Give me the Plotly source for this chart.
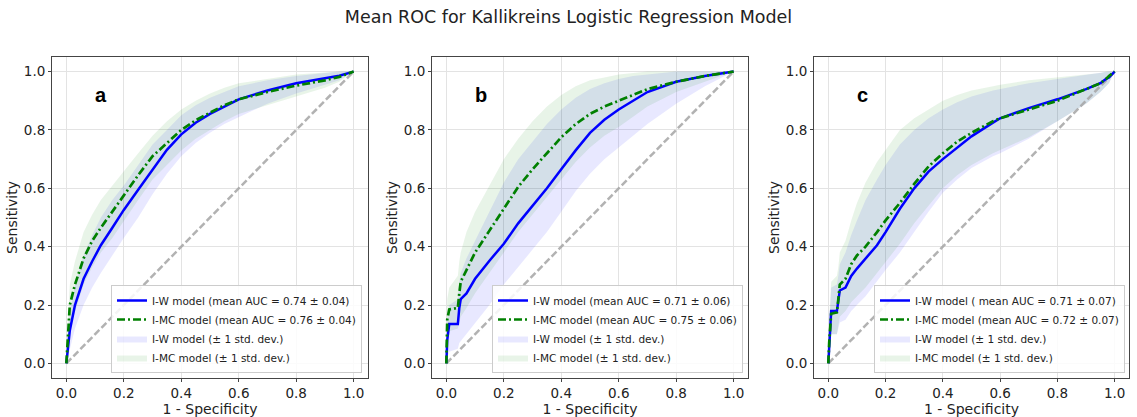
import plotly.graph_objects as go

# ---------------- data ----------------
panel_letters = ["a", "b", "c"]
chance = [0.0, 1.0]
tick_vals = [0.0, 0.2, 0.4, 0.6, 0.8, 1.0]
tick_text = ["0.0", "0.2", "0.4", "0.6", "0.8", "1.0"]

iw_names = ["I-W model (mean AUC = 0.74 \u00b1 0.04)",
            "I-W model (mean AUC = 0.71 \u00b1 0.06)",
            "I-W model ( mean AUC = 0.71 \u00b1 0.07)"]
mc_names = ["I-MC model (mean AUC = 0.76 \u00b1 0.04)",
            "I-MC model (mean AUC = 0.75 \u00b1 0.06)",
            "I-MC model (mean AUC = 0.72 \u00b1 0.07)"]
iw_band_name = "I-W model (\u00b1 1 std. dev.)"
mc_band_name = "I-MC model (\u00b1 1 std. dev.)"

# panel a
a_fpr = [0, 0.005, 0.012, 0.03, 0.06, 0.09, 0.12, 0.16, 0.2, 0.25, 0.3, 0.35, 0.4,
         0.45, 0.5, 0.55, 0.6, 0.7, 0.8, 0.9, 0.95, 1.0]
a_iw_mean = [0, .06, .113, .2, .29, .35, .405, .465, .526, .595, .665, .732, .785,
             .825, .855, .88, .905, .935, .96, .977, .986, 1]
a_iw_lo = [0, .02, .05, .12, .2, .26, .31, .37, .43, .5, .58, .65, .71,
           .755, .79, .82, .845, .89, .925, .955, .97, 1]
a_iw_hi = [0, .1, .17, .27, .37, .44, .5, .56, .61, .68, .75, .8, .85,
           .885, .91, .93, .95, .97, .985, .995, 1, 1]
a_mc_mean = [0, .1, .2, .27, .36, .42, .465, .52, .577, .645, .71, .755, .8,
             .833, .86, .885, .905, .93, .952, .97, .982, 1]
a_mc_lo = [0, .05, .12, .18, .27, .33, .38, .43, .49, .56, .63, .68, .73,
           .77, .8, .83, .855, .885, .915, .945, .965, 1]
a_mc_hi = [0, .15, .27, .35, .45, .51, .56, .61, .66, .72, .78, .83, .87,
           .9, .925, .945, .96, .975, .99, .997, 1, 1]

# panel b
b_fpr = [0, 0.003, 0.01, 0.04, 0.045, 0.05, 0.07, 0.1, 0.15, 0.2, 0.25, 0.3, 0.35,
         0.4, 0.45, 0.5, 0.55, 0.6, 0.65, 0.7, 0.8, 0.9, 1.0]
b_iw_mean = [0, .08, .135, .135, .19, .22, .24, .29, .352, .41, .48, .54, .6,
             .665, .73, .79, .835, .87, .9, .93, .965, .985, 1]
b_iw_lo = [0, .02, .04, .05, .07, .08, .1, .14, .2, .27, .33, .39, .45,
           .52, .59, .65, .7, .74, .78, .82, .89, .95, 1]
b_iw_hi = [0, .15, .2, .22, .28, .31, .36, .42, .52, .62, .7, .76, .82,
           .87, .91, .94, .96, .975, .985, .99, 1, 1, 1]
b_mc_mean = [0, .15, .185, .19, .24, .28, .32, .38, .455, .53, .605, .665, .72,
             .775, .82, .855, .88, .9, .92, .94, .965, .985, 1]
b_mc_lo = [0, .08, .11, .12, .14, .16, .19, .24, .31, .38, .45, .51, .57,
           .63, .69, .74, .78, .81, .845, .88, .93, .965, 1]
b_mc_hi = [0, .22, .26, .3, .35, .38, .45, .52, .61, .7, .77, .83, .88,
           .92, .95, .97, .98, .99, .995, 1, 1, 1, 1]

# panel c
c_fpr = [0, 0.003, 0.01, 0.03, 0.035, 0.04, 0.06, 0.08, 0.1, 0.13, 0.17, 0.2, 0.25,
         0.3, 0.35, 0.4, 0.45, 0.5, 0.575, 0.6, 0.7, 0.8, 0.9, 0.95, 0.97, 0.98, 1.0]
c_iw_mean = [0, .07, .18, .18, .21, .25, .26, .3, .325, .358, .405, .45, .53,
             .6, .657, .7, .74, .778, .825, .84, .875, .905, .94, .96, .975, .98, 1]
c_iw_lo = [0, .03, .1, .1, .12, .14, .15, .18, .2, .23, .28, .32, .38,
           .45, .52, .585, .63, .67, .71, .72, .77, .83, .89, .93, .95, .96, 1]
c_iw_hi = [0, .12, .26, .27, .3, .34, .38, .44, .49, .56, .63, .68, .75,
           .8, .84, .87, .895, .915, .935, .94, .96, .975, .99, .995, 1, 1, 1]
c_mc_mean = [0, .07, .17, .175, .22, .27, .29, .34, .37, .4, .45, .49, .55,
             .615, .675, .72, .76, .79, .83, .84, .87, .9, .94, .96, .975, .985, 1]
c_mc_lo = [0, .03, .1, .1, .13, .16, .18, .21, .23, .26, .31, .35, .41,
           .48, .54, .6, .645, .68, .72, .73, .775, .83, .89, .93, .95, .96, 1]
c_mc_hi = [0, .15, .28, .3, .33, .38, .42, .49, .55, .62, .69, .73, .8,
           .84, .87, .9, .92, .935, .95, .955, .97, .98, .99, .995, 1, 1, 1]

panels = [
    (a_fpr, a_iw_mean, a_iw_lo, a_iw_hi, a_mc_mean, a_mc_lo, a_mc_hi),
    (b_fpr, b_iw_mean, b_iw_lo, b_iw_hi, b_mc_mean, b_mc_lo, b_mc_hi),
    (c_fpr, c_iw_mean, c_iw_lo, c_iw_hi, c_mc_mean, c_mc_lo, c_mc_hi),
]

# ---------------- styling ----------------
W, H = 1137, 417
FONT = "DejaVu Sans"
x_domains = [[52 / W, 368 / W], [432 / W, 748 / W], [814 / W, 1129 / W]]
y_domain = [1 - 378 / H, 1 - 57 / H]
legend_right = [362 / W, 743 / W, 1125 / W]
legend_bottom = 1 - 373 / H

IW_COLOR = "blue"
MC_COLOR = "green"
IW_FILL = "rgba(0,0,255,0.09)"
MC_FILL = "rgba(0,128,0,0.09)"

fig = go.Figure()
legend_ids = ["legend", "legend2", "legend3"]

for i, (fpr, iw_m, iw_lo, iw_hi, mc_m, mc_lo, mc_hi) in enumerate(panels):
    sfx = "" if i == 0 else str(i + 1)
    xa, ya = "x" + sfx, "y" + sfx
    lg = legend_ids[i]
    # bands
    fig.add_trace(go.Scatter(
        x=list(fpr) + list(fpr)[::-1], y=list(iw_hi) + list(iw_lo)[::-1],
        fill="toself", fillcolor=IW_FILL, line=dict(width=0, color="rgba(0,0,0,0)"),
        mode="lines", name=iw_band_name, legend=lg, legendrank=3,
        xaxis=xa, yaxis=ya, hoverinfo="skip"))
    fig.add_trace(go.Scatter(
        x=list(fpr) + list(fpr)[::-1], y=list(mc_hi) + list(mc_lo)[::-1],
        fill="toself", fillcolor=MC_FILL, line=dict(width=0, color="rgba(0,0,0,0)"),
        mode="lines", name=mc_band_name, legend=lg, legendrank=4,
        xaxis=xa, yaxis=ya, hoverinfo="skip"))
    # chance line
    fig.add_trace(go.Scatter(
        x=chance, y=chance, mode="lines", showlegend=False,
        line=dict(color="rgba(165,165,165,0.85)", width=2.5, dash="7px,3px"),
        xaxis=xa, yaxis=ya))
    # mean curves
    fig.add_trace(go.Scatter(
        x=fpr, y=iw_m, mode="lines", name=iw_names[i], legend=lg, legendrank=1,
        line=dict(color=IW_COLOR, width=2.5), xaxis=xa, yaxis=ya))
    fig.add_trace(go.Scatter(
        x=fpr, y=mc_m, mode="lines", name=mc_names[i], legend=lg, legendrank=2,
        line=dict(color=MC_COLOR, width=2.7, dash="8px,3px,2px,3px"),
        xaxis=xa, yaxis=ya))

axis_common = dict(
    range=[-0.05, 1.05], tickvals=tick_vals, ticktext=tick_text,
    showgrid=True, gridcolor="#e3e3e3", gridwidth=1, zeroline=False,
    showline=True, mirror=True, linecolor="#444444", linewidth=1,
    ticks="outside", ticklen=3, tickcolor="#444444",
    tickfont=dict(family=FONT, size=13.5, color="#222222"),
    automargin=False,
)

layout = dict(
    width=W, height=H,
    margin=dict(l=0, r=0, t=0, b=0),
    paper_bgcolor="white", plot_bgcolor="white",
    font=dict(family=FONT, color="#222222"),
    title=dict(text="Mean ROC for Kallikreins Logistic Regression Model",
               x=0.5, xanchor="center", y=1 - 17 / H, yanchor="middle",
               yref="container", font=dict(family=FONT, size=17.5, color="#222222")),
    showlegend=True,
)

annotations = []
for i in range(3):
    sfx = "" if i == 0 else str(i + 1)
    layout["xaxis" + sfx] = dict(
        axis_common, domain=x_domains[i], anchor="y" + sfx,
        title=dict(text="1 - Specificity", standoff=2,
                   font=dict(family=FONT, size=14, color="#222222")))
    layout["yaxis" + sfx] = dict(
        axis_common, domain=y_domain, anchor="x" + sfx,
        title=dict(text="Sensitivity", standoff=2,
                   font=dict(family=FONT, size=14, color="#222222")))
    layout[legend_ids[i]] = dict(
        x=legend_right[i], xanchor="right", xref="paper",
        y=legend_bottom, yanchor="bottom", yref="paper",
        bgcolor="rgba(255,255,255,0.85)", bordercolor="#cccccc", borderwidth=1,
        font=dict(family=FONT, size=10.5, color="#222222"),
        itemwidth=30, tracegroupgap=0)
    annotations.append(dict(
        text="<b>%s</b>" % panel_letters[i], x=0.12, y=0.92,
        xref="x" + sfx, yref="y" + sfx, showarrow=False,
        font=dict(family="Liberation Sans", size=20, color="black")))

layout["annotations"] = annotations
fig.update_layout(**layout)
fig.write_html("out.html")
